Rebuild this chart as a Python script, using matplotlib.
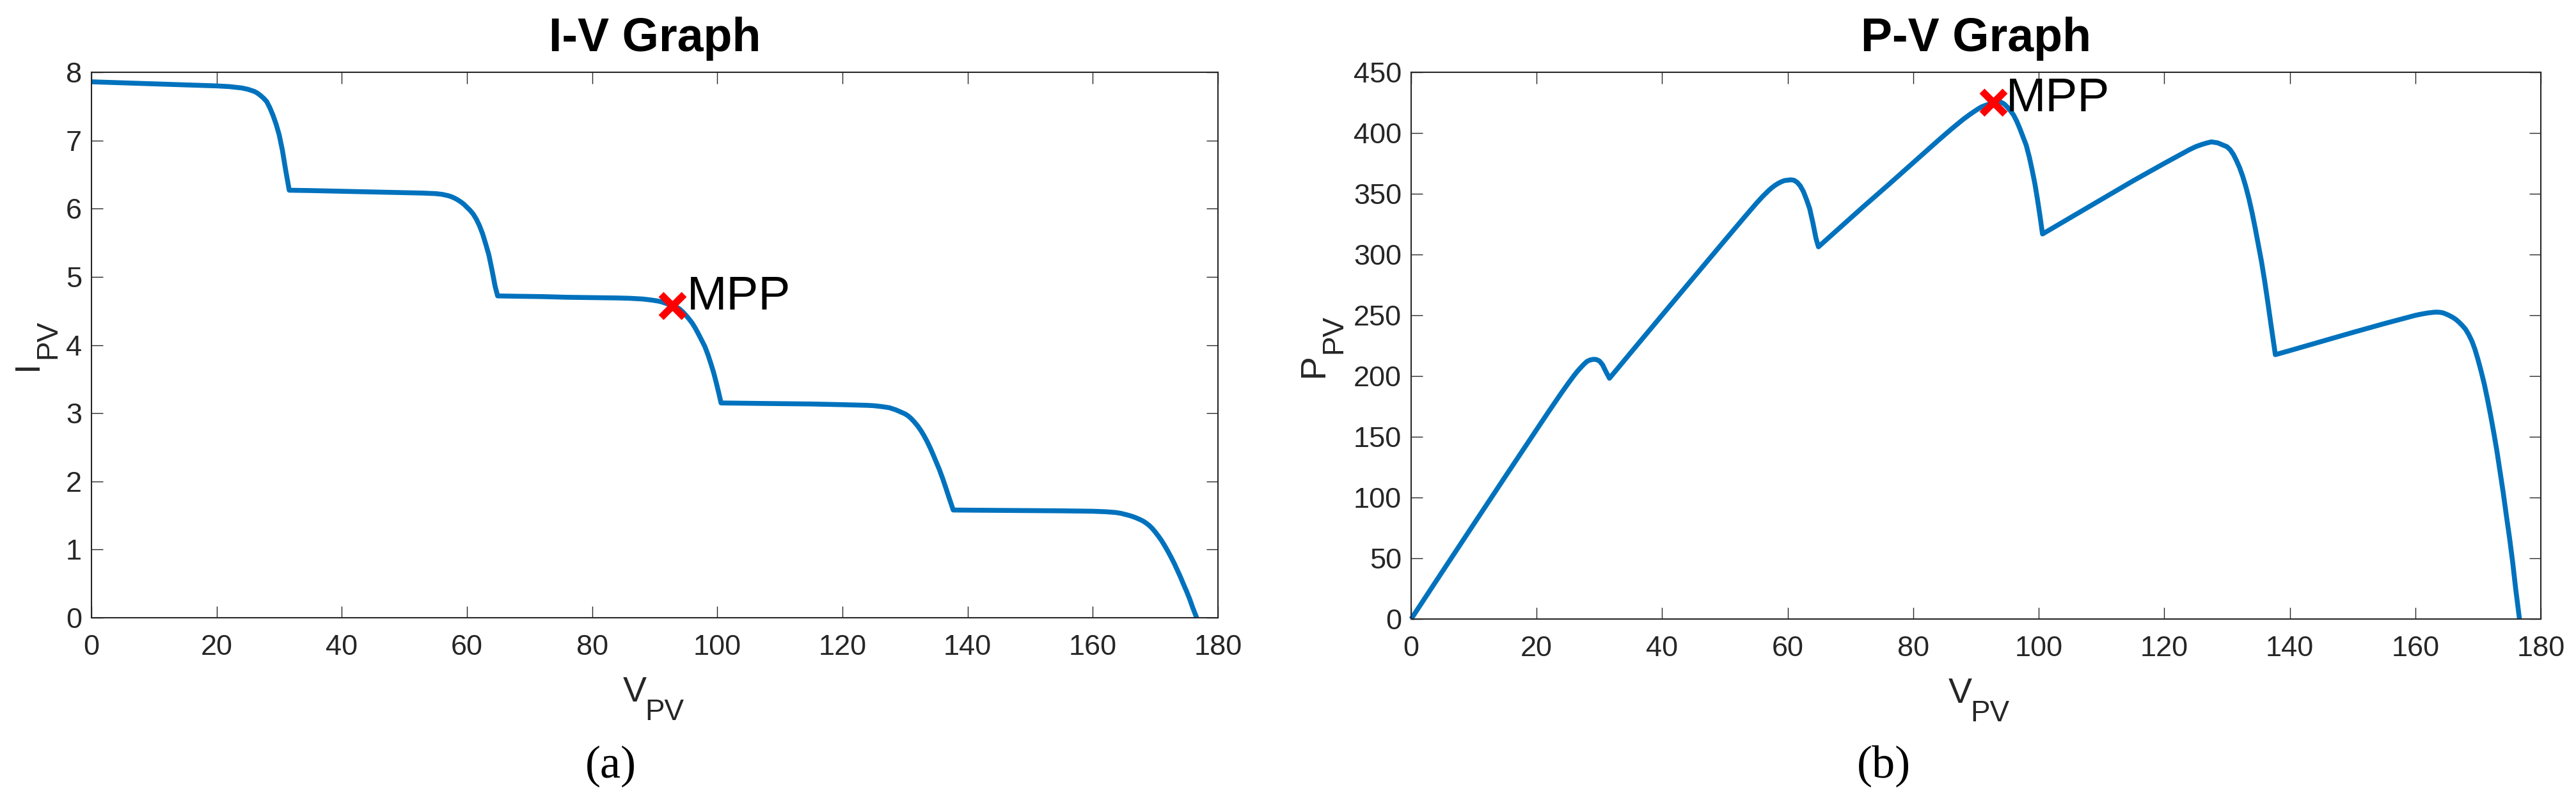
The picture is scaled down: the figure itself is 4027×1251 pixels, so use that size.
import numpy as np
import matplotlib
matplotlib.use("Agg")
import matplotlib.pyplot as plt

# ---------------- data ----------------
# PV array voltage (V) and current (A), one list per step
V_seg1 = [0, 5, 10, 15, 20, 21, 22, 23, 24, 25, 26, 26.5, 27, 27.5, 28, 28.5, 29, 29.5,
          30, 30.5, 31, 31.6]
I_seg1 = [7.86, 7.845, 7.83, 7.815, 7.80, 7.795, 7.79, 7.78, 7.77, 7.75, 7.72, 7.695,
          7.66, 7.62, 7.57, 7.48, 7.37, 7.24, 7.08, 6.86, 6.58, 6.27]
V_seg2 = [35, 40, 45, 50, 53, 55, 56, 57, 57.5, 58, 58.5, 59, 59.5, 60, 60.5, 61, 61.5,
          62, 62.5, 63, 63.5, 64, 64.5, 64.9]
I_seg2 = [6.265, 6.255, 6.245, 6.235, 6.228, 6.22, 6.21, 6.19, 6.175, 6.155, 6.13, 6.10,
          6.065, 6.02, 5.975, 5.92, 5.845, 5.75, 5.63, 5.48, 5.32, 5.10, 4.86, 4.72]
V_seg3 = [68, 72, 76, 80, 84, 86, 87, 88, 89, 89.8, 90.5, 91, 91.5, 92, 92.8, 93.5, 94,
          94.5, 95, 95.5, 96, 96.5, 97, 97.5, 98, 98.5, 99, 99.4, 99.8, 100.2, 100.6]
I_seg3 = [4.715, 4.71, 4.70, 4.695, 4.69, 4.685, 4.68, 4.675, 4.665, 4.655, 4.645, 4.635,
          4.62, 4.605, 4.585, 4.555, 4.525, 4.485, 4.435, 4.38, 4.32, 4.245, 4.16, 4.07,
          3.98, 3.86, 3.72, 3.60, 3.46, 3.31, 3.15]
V_seg4 = [105, 110, 115, 120, 124, 125, 126, 126.8, 127.5, 128, 128.5, 129, 129.5, 130,
          130.5, 131, 131.5, 132, 132.5, 133, 133.5, 134, 134.5, 135, 135.5, 136, 136.5,
          137, 137.7]
I_seg4 = [3.145, 3.14, 3.135, 3.125, 3.115, 3.11, 3.10, 3.09, 3.08, 3.065, 3.05, 3.03,
          3.01, 2.99, 2.96, 2.92, 2.87, 2.815, 2.75, 2.675, 2.59, 2.495, 2.39, 2.28, 2.17,
          2.045, 1.91, 1.77, 1.58]
V_seg5 = [140, 145, 150, 155, 160, 161, 162, 163, 163.5, 164, 164.5, 165, 165.5, 166,
          166.5, 167, 167.5, 168, 168.5, 169, 169.5, 170, 170.5, 171, 171.5, 172, 172.5,
          173, 173.5, 174, 174.5, 175, 175.5, 176, 176.6]
I_seg5 = [1.578, 1.575, 1.572, 1.568, 1.562, 1.559, 1.555, 1.549, 1.545, 1.539, 1.531,
          1.52, 1.508, 1.495, 1.48, 1.462, 1.442, 1.42, 1.39, 1.355, 1.31, 1.255, 1.195,
          1.13, 1.055, 0.975, 0.89, 0.80, 0.70, 0.60, 0.49, 0.385, 0.27, 0.14, 0.0]

V_pv = np.array(V_seg1 + V_seg2 + V_seg3 + V_seg4 + V_seg5)
I_pv = np.array(I_seg1 + I_seg2 + I_seg3 + I_seg4 + I_seg5)
P_pv = V_pv * I_pv

V_mpp = 92.8
I_mpp = 4.58
P_mpp = V_mpp * I_mpp

x_ticks = list(range(0, 181, 20))
iv_yticks = list(range(0, 9))
pv_yticks = list(range(0, 451, 50))

titles = ["I-V Graph", "P-V Graph"]
captions = ["(a)", "(b)"]

# ---------------- style ----------------
W, H = 4027, 1251
DPI = 100
plt.rcParams["font.family"] = ["Liberation Sans", "DejaVu Sans"]
AX_COL = "#262626"
LINE_COL = "#0072BD"

fig = plt.figure(figsize=(W / DPI, H / DPI), dpi=DPI)
fig.patch.set_facecolor("white")


def fpos(x, y):
    return x / W, 1 - y / H


def make_axes(x0, y0, x1, y1):
    return fig.add_axes([x0 / W, 1 - y1 / H, (x1 - x0) / W, (y1 - y0) / H])


ax1 = make_axes(143, 113, 1904, 966)
ax2 = make_axes(2206, 113, 3972, 968)

for ax in (ax1, ax2):
    for sp in ax.spines.values():
        sp.set_color(AX_COL)
        sp.set_linewidth(1.5)
    ax.tick_params(direction="in", length=13, width=1.0, top=True, right=True,
                   labelsize=32.5, colors=AX_COL)
    ax.tick_params(axis="x", pad=19)
    ax.tick_params(axis="y", pad=10.8)
    ax.set_xlim(0, 180)
    ax.set_xticks(x_ticks)

# I-V
ax1.plot(V_pv, I_pv, color=LINE_COL, lw=5.5, solid_joinstyle="round",
         solid_capstyle="butt", clip_on=False)
ax1.plot([V_mpp], [I_mpp], "x", color="red", ms=26, mew=8, clip_on=False, zorder=5)
ax1.text(95.2, 4.52, "MPP", fontsize=54, ha="left", va="baseline", color="black")
ax1.set_ylim(0, 8)
ax1.set_yticks(iv_yticks)
ax1.set_title(titles[0], fontsize=53, fontweight="bold", pad=23.8, color="black")

# P-V
ax2.plot(V_pv, P_pv, color=LINE_COL, lw=5.5, solid_joinstyle="round",
         solid_capstyle="butt", clip_on=False)
ax2.plot([V_mpp], [P_mpp], "x", color="red", ms=26, mew=8, clip_on=False, zorder=5)
ax2.text(94.8, 418, "MPP", fontsize=54, ha="left", va="baseline", color="black")
ax2.set_ylim(0, 450)
ax2.set_yticks(pv_yticks)
ax2.set_title(titles[1], fontsize=53, fontweight="bold", pad=23.8, color="black")


# axis labels with subscripts (main letter + subscript)
def xlabel(x, y, main, sub):
    fig.text(*fpos(x, y), main, fontsize=40, ha="left", va="baseline", color=AX_COL)
    fig.text(*fpos(x + 34, y + 29), sub, fontsize=33, ha="left", va="baseline", color=AX_COL)


def ylabel(x, y, main, sub, adv):
    fig.text(*fpos(x, y), main, fontsize=40, ha="left", va="baseline", color=AX_COL,
             rotation=90, rotation_mode="anchor")
    fig.text(*fpos(x + 29, y - adv), sub, fontsize=33, ha="left", va="baseline",
             color=AX_COL, rotation=90, rotation_mode="anchor")


xlabel(974, 1097, "V", "PV")
xlabel(3046, 1099, "V", "PV")
ylabel(58, 579, "I", "PV", 18)
ylabel(2068, 590, "P", "PV", 37)

# sub-figure captions
fig.text(*fpos(955, 1198), captions[0], fontsize=52, ha="center", va="center",
         family=["Liberation Serif", "DejaVu Serif"], color="black")
fig.text(*fpos(2945, 1198), captions[1], fontsize=52, ha="center", va="center",
         family=["Liberation Serif", "DejaVu Serif"], color="black")

fig.savefig("out.png", dpi=DPI, facecolor="white")
